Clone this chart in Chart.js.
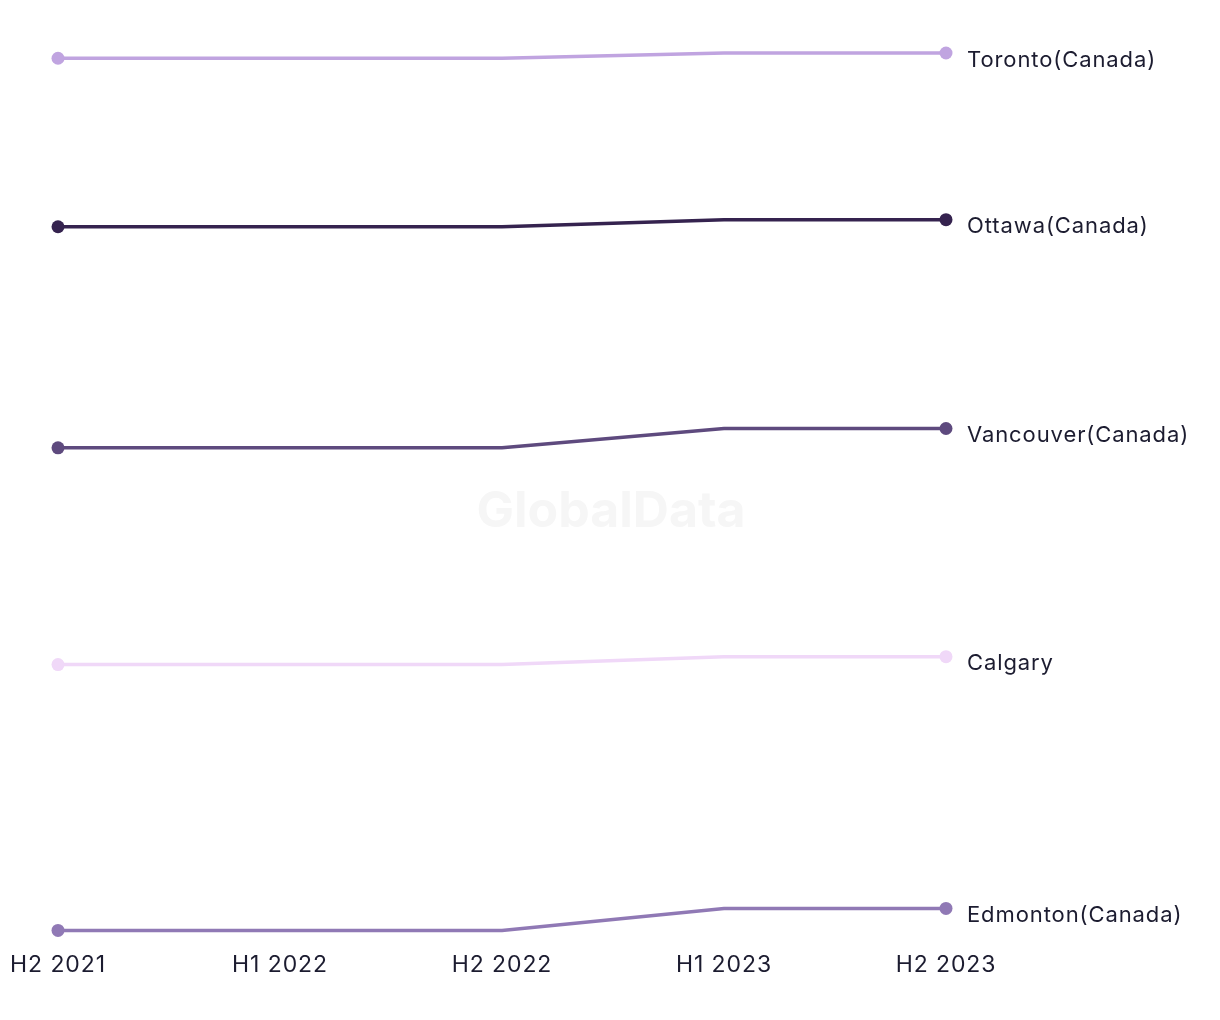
<!DOCTYPE html>
<html>
<head>
<meta charset="utf-8">
<script src="https://cdn.jsdelivr.net/npm/chart.js@4.4.0/dist/chart.umd.min.js"></script>
<style>
  html, body { margin: 0; padding: 0; background: #fff; }
  #wrap { width: 1220px; height: 1020px; }
</style>
</head>
<body>
<div id="wrap"><canvas id="rankChart" width="1220" height="1020"></canvas></div>
<script>
// periods on the x axis
const periods = ['H2 2021', 'H1 2022', 'H2 2022', 'H1 2023', 'H2 2023'];

// index values (no y axis shown)
const toronto   = [99.4, 99.4, 99.4, 100, 100];
const ottawa    = [80.2, 80.2, 80.2, 81.0, 81.0];
const vancouver = [55.0, 55.0, 55.0, 57.2, 57.2];
const calgary   = [30.3, 30.3, 30.3, 31.2, 31.2];
const edmonton  = [0, 0, 0, 2.5, 2.5];

const cityNames  = ['Toronto(Canada)', 'Ottawa(Canada)', 'Vancouver(Canada)', 'Calgary', 'Edmonton(Canada)'];
const cityColors = ['#c0a4e0', '#35234f', '#5e4a7e', '#f0d8f8', '#9079b5'];

const FONT = 'Inter, "Noto Sans", sans-serif';
const TEXT = '#1c1c30';

// a bit of tracking for all text, like the original
const tracking = {
  id: 'tracking',
  beforeLayout(chart) { chart.ctx.letterSpacing = '0.9px'; },
  beforeDraw(chart) { chart.ctx.letterSpacing = '0.9px'; }
};

// end labels next to the last point
const endLabels = {
  id: 'endLabels',
  afterDatasetsDraw(chart) {
    const ctx = chart.ctx;
    ctx.save();
    ctx.font = '22px ' + FONT;
    ctx.fillStyle = TEXT;
    ctx.textBaseline = 'middle';
    chart.data.datasets.forEach((ds, i) => {
      const pts = chart.getDatasetMeta(i).data;
      const last = pts[pts.length - 1];
      ctx.fillText(ds.label, last.x + 21, last.y + 7);
    });
    ctx.restore();
  }
};

// faint watermark
const watermark = {
  id: 'watermark',
  beforeDatasetsDraw(chart) {
    const ctx = chart.ctx;
    ctx.save();
    ctx.letterSpacing = '0px';
    ctx.font = 'bold 50px ' + FONT;
    ctx.fillStyle = '#f6f6f6';
    ctx.textAlign = 'center';
    ctx.textBaseline = 'middle';
    ctx.fillText('GlobalData', 611, 512);
    ctx.restore();
  }
};

const series = [toronto, ottawa, vancouver, calgary, edmonton];

new Chart(document.getElementById('rankChart'), {
  type: 'line',
  data: {
    labels: periods,
    datasets: series.map((vals, i) => ({
      label: cityNames[i],
      data: vals,
      borderColor: cityColors[i],
      backgroundColor: cityColors[i],
      borderWidth: 3.5,
      pointRadius: [6.5, 0, 0, 0, 6.5],
      pointHoverRadius: [6.5, 0, 0, 0, 6.5],
      pointBorderWidth: 0,
      tension: 0,
      clip: false
    }))
  },
  options: {
    responsive: false,
    animation: false,
    layout: { padding: { left: 58, right: 274, top: 53, bottom: 28 } },
    plugins: {
      legend: { display: false },
      tooltip: { enabled: false }
    },
    scales: {
      x: {
        offset: false,
        grid: { display: false },
        border: { display: false },
        ticks: { color: TEXT, font: { family: FONT, size: 23 }, padding: 13, maxRotation: 0 },
        afterFit(scale) { scale.paddingLeft = 0; scale.paddingRight = 0; }
      },
      y: {
        display: false,
        min: 0,
        max: 100
      }
    }
  },
  plugins: [tracking, watermark, endLabels]
});
</script>
</body>
</html>
